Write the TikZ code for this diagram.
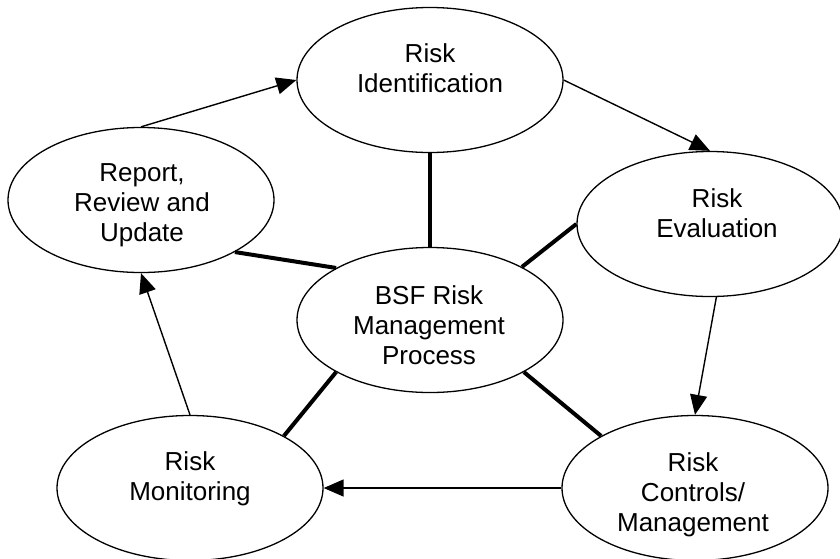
\documentclass[tikz,border=0pt]{standalone}
\usepackage{fontspec}
\setmainfont{Liberation Sans}
\usetikzlibrary{shapes.geometric,arrows.meta}

\begin{document}
\begin{tikzpicture}[x=1pt,y=-1pt,
  proc/.style={ellipse, draw, line width=1.3pt, minimum width=266pt, minimum height=145pt, inner sep=0pt},
  lbl/.style={anchor=north, align=center, inner sep=0pt, font=\fontsize{26}{30}\selectfont},
  flow/.style={line width=1.4pt, -{Triangle[length=20pt,width=17pt]}},
  spoke/.style={line width=4pt}]
\useasboundingbox (0,0) rectangle (840,558);

\node[proc] (ident)  at (430,80)  {};
\node[proc] (report) at (141,200) {};
\node[proc] (eval)   at (710,224) {};
\node[proc] (bsf)    at (430,320) {};
\node[proc] (monit)  at (190,488) {};
\node[proc] (ctrl)   at (695,488) {};

\node[lbl] (identT)  at (430,43)  {Risk\\Identification};
\node[lbl] (reportT) at (142,163) {Report,\\Review and\\Update};
\node[lbl] (evalT)   at (717,188) {Risk\\Evaluation};
\node[lbl] (bsfT)    at (429,285) {BSF Risk\\Management\\Process};
\node[lbl] (monitT)  at (190,451) {Risk\\Monitoring};
\node[lbl] (ctrlT)   at (693,452) {Risk\\Controls/\\Management};

\draw[spoke] (bsf.north) -- (ident.south);
\draw[spoke] (bsf.151) -- (report.331);
\draw[spoke] (bsf.30) -- (eval.west);
\draw[spoke] (bsf.209) -- (monit.29);
\draw[spoke] (bsf.331) -- (ctrl.151);

\draw[flow] (report.north) -- (ident.west);
\draw[flow] (ident.east) -- (eval.north);
\draw[flow] (eval.275) -- (ctrl.north);
\draw[flow] (ctrl.west) -- (monit.east);
\draw[flow] (monit.north) -- (report.south);
\end{tikzpicture}
\end{document}
